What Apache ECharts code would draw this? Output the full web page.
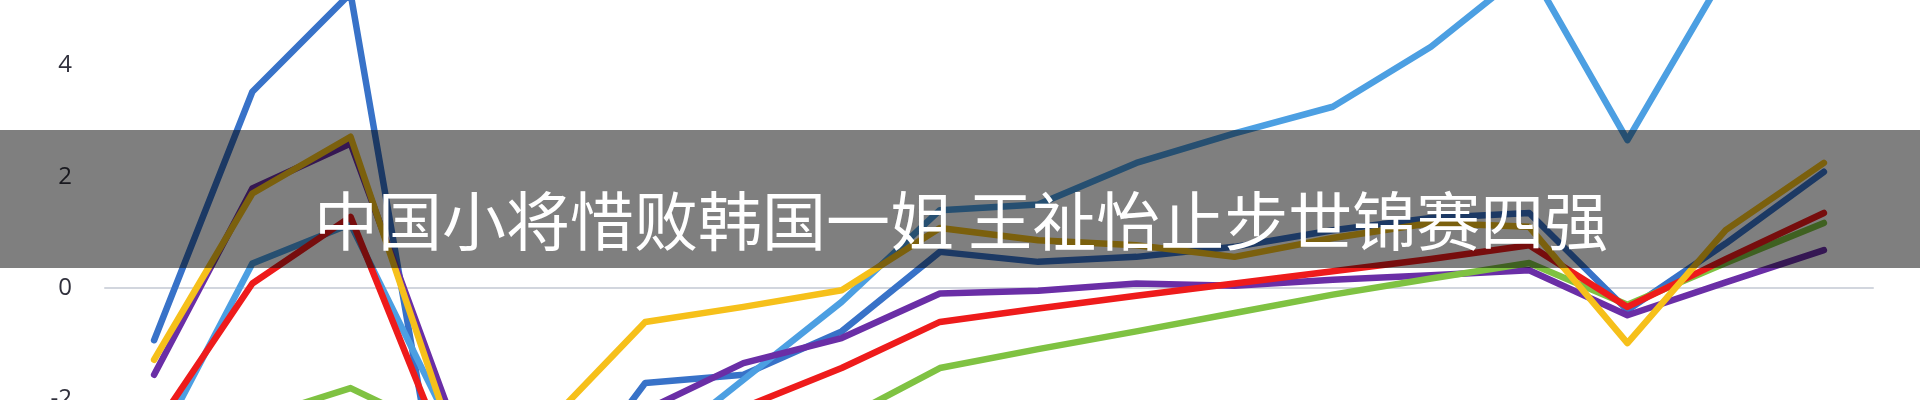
<!DOCTYPE html>
<html>
<head>
<meta charset="utf-8">
<script src="https://cdn.jsdelivr.net/npm/echarts@6/dist/echarts.min.js"></script>
<style>
html,body{margin:0;padding:0;background:#fff;}
#c{width:1920px;height:400px;}
</style>
</head>
<body>
<div id="c"></div>
<script>
var categories = ['1','2','3','4','5','6','7','8','9','10','11','12','13','14','15','16','17','18'];
var yTicks = [-4, -2, 0, 2, 4, 6];
var titleText = '中国小将惜败韩国一姐 王祉怡止步世锦赛四强';

var darkBlue  = [-0.94, 3.53, 5.3, -4.9, -4.05, -1.71, -1.56, -0.78, 0.65, 0.47, 0.56, 0.74, 1.04, 1.26, 1.35, -0.4, 0.8, 2.09];
var lightBlue = [-2.93, 0.44, 1.15, -2.42, -3.5, -3.05, -1.65, -0.25, 1.4, 1.5, 2.25, 2.78, 3.26, 4.34, 5.75, 2.66, 5.68, 7.2];
var purple    = [-1.56, 1.79, 2.6, -2.2, -2.8, -2.2, -1.35, -0.9, -0.1, -0.05, 0.08, 0.04, 0.15, 0.23, 0.32, -0.49, 0.1, 0.68];
var green     = [-3.0, -2.36, -1.8, -2.65, -3.0, -3.2, -3.0, -2.37, -1.44, -1.1, -0.78, -0.45, -0.12, 0.17, 0.45, -0.3, 0.45, 1.17];
var red       = [-2.54, 0.08, 1.28, -3.1, -3.6, -3.2, -2.15, -1.44, -0.61, -0.37, -0.14, 0.08, 0.3, 0.52, 0.77, -0.34, 0.52, 1.35];
var gold      = [-1.29, 1.7, 2.72, -2.5, -2.45, -0.61, -0.34, -0.04, 1.08, 0.86, 0.77, 0.56, 0.9, 1.17, 1.1, -0.99, 1.04, 2.25];

var seriesDefs = [
  {name:'darkBlue', data: darkBlue, color:'#3872c8'},
  {name:'lightBlue', data: lightBlue, color:'#4c9fe2'},
  {name:'purple', data: purple, color:'#6a2ea6'},
  {name:'green', data: green, color:'#7fc242'},
  {name:'red', data: red, color:'#ee1b1b'},
  {name:'gold', data: gold, color:'#f6c01a'}
];

var chart = echarts.init(document.getElementById('c'), null, {renderer:'canvas'});
chart.setOption({
  animation: false,
  backgroundColor: '#ffffff',
  grid: {left: 105, width: 1768, top: -45.6, height: 556, containLabel: false, outerBoundsMode: 'none'},
  xAxis: {
    type: 'category',
    data: categories,
    boundaryGap: true,
    axisLine: {show: true, onZero: true, lineStyle: {color: '#d2d6de', width: 2}},
    axisTick: {show: false},
    axisLabel: {show: false},
    splitLine: {show: false}
  },
  yAxis: {
    type: 'value',
    min: yTicks[0],
    max: yTicks[yTicks.length - 1],
    interval: 2,
    axisLine: {show: false},
    axisTick: {show: false},
    splitLine: {show: false},
    axisLabel: {
      show: true,
      margin: 33,
      color: '#30303c',
      fontSize: 24,
      fontFamily: 'Open Sans, Noto Sans, sans-serif'
    }
  },
  series: seriesDefs.map(function (s) {
    return {
      name: s.name,
      type: 'line',
      data: s.data,
      symbol: 'none',
      smooth: false,
      lineStyle: {color: s.color, width: 6.5, cap: 'round', join: 'round'},
      itemStyle: {color: s.color}
    };
  }),
  graphic: [
    {
      type: 'rect',
      z: 100,
      shape: {x: 0, y: 130, width: 1920, height: 138},
      style: {fill: 'rgba(0,0,0,0.5)'}
    },
    {
      type: 'text',
      z: 101,
      x: 314,
      y: 221,
      style: {
        text: titleText,
        fill: '#ffffff',
        fontSize: 64,
        fontFamily: 'Noto Sans CJK SC, sans-serif',
        fontWeight: 'normal',
        verticalAlign: 'middle',
        align: 'left'
      }
    }
  ]
});
</script>
</body>
</html>
